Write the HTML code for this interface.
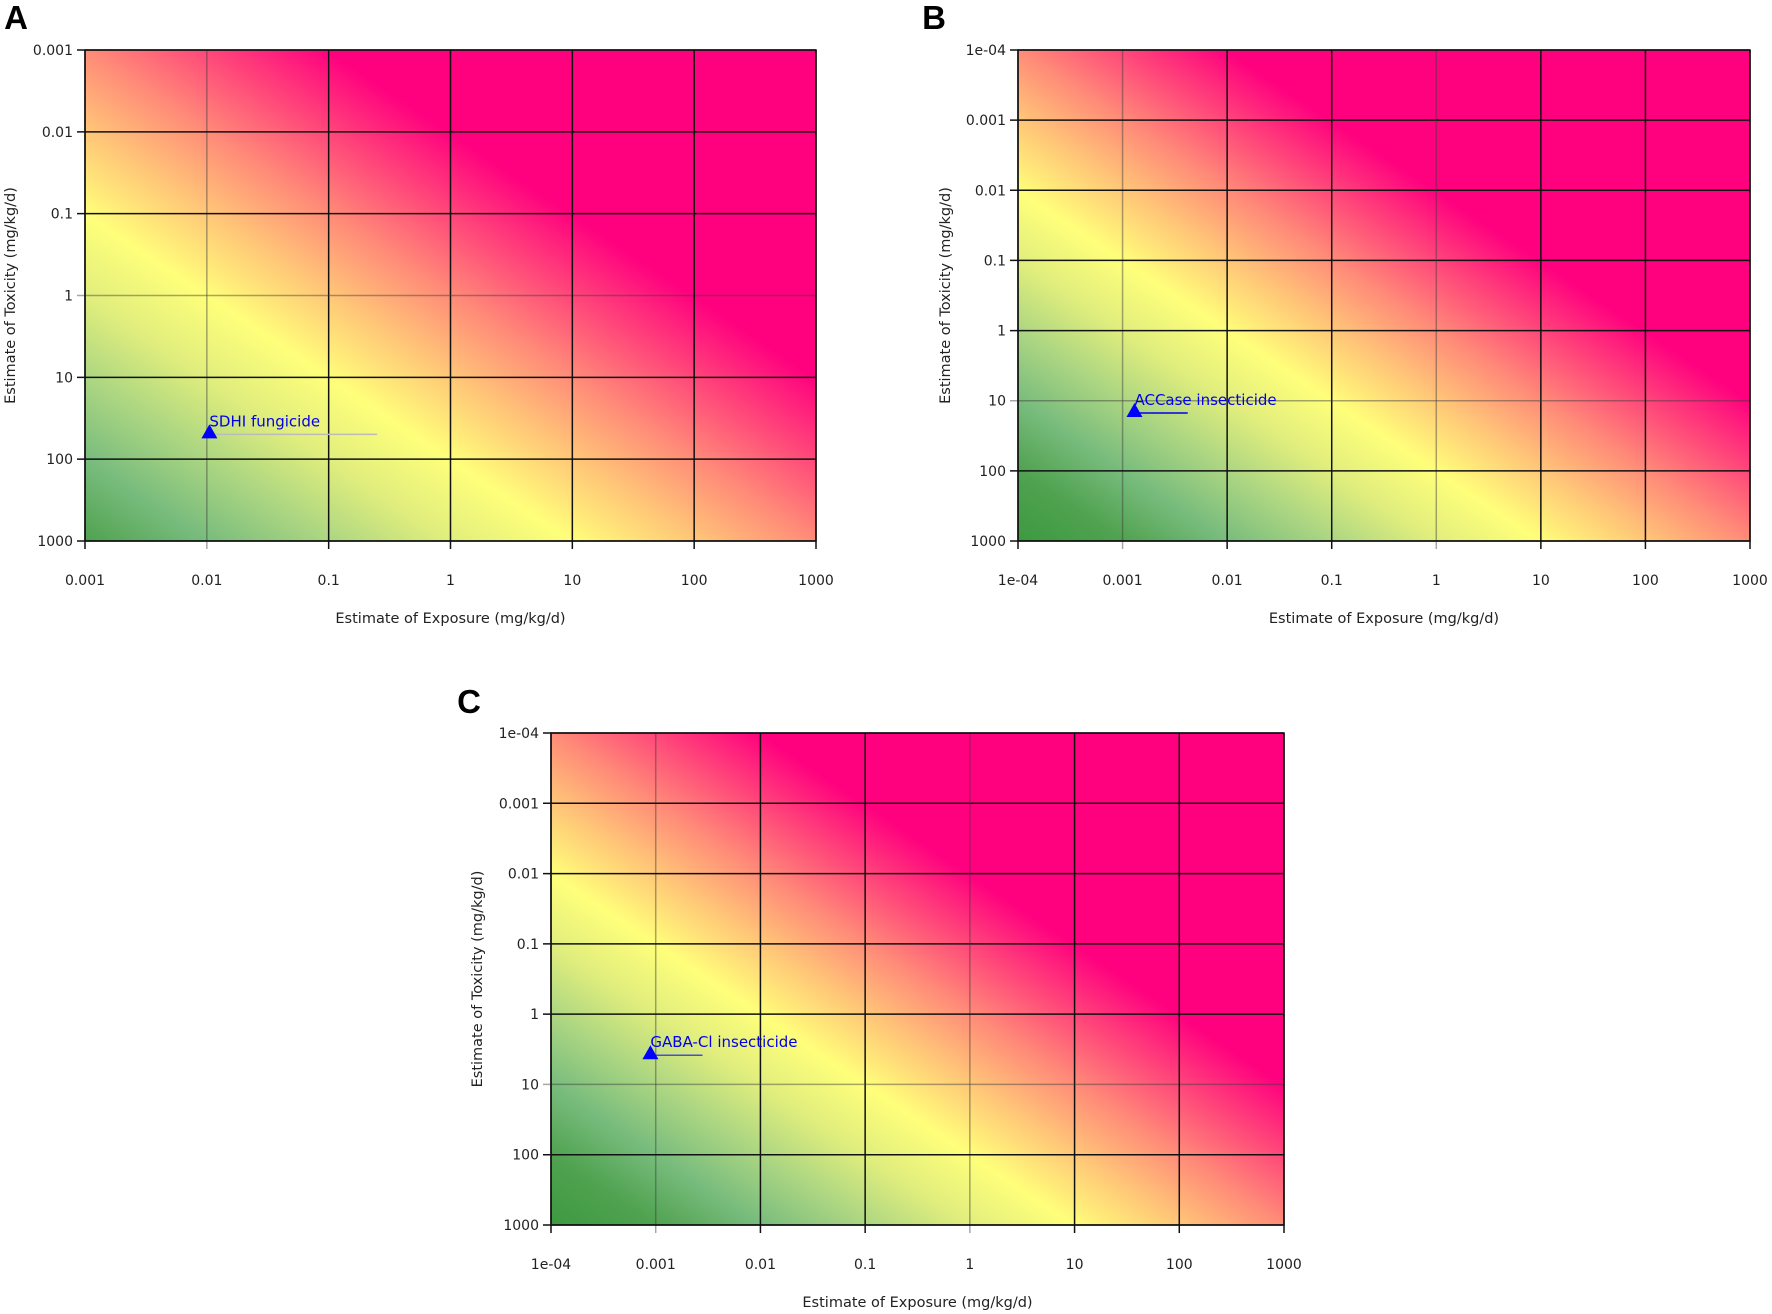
<!DOCTYPE html>
<html><head><meta charset="utf-8">
<style>
html,body{margin:0;padding:0;background:#fff;}
#root{position:relative;width:1772px;height:1314px;overflow:hidden;}
canvas{position:absolute;}
svg{position:absolute;left:0;top:0;}
text{font-family:"DejaVu Sans","Liberation Sans",sans-serif;}
</style></head>
<body>
<div id="root">
<canvas id="cA"></canvas>
<canvas id="cB"></canvas>
<canvas id="cC"></canvas>
<svg id="svg" width="1772" height="1314"></svg>
</div>
<script>
// ---- data ----
const ticksA = [0.001, 0.01, 0.1, 1, 10, 100, 1000];
const tickLabelsA = ["0.001","0.01","0.1","1","10","100","1000"];
const ticksBC = [1e-4, 0.001, 0.01, 0.1, 1, 10, 100, 1000];
const tickLabelsBC = ["1e-04","0.001","0.01","0.1","1","10","100","1000"];
const pointNames = ["SDHI fungicide", "ACCase insecticide", "GABA-Cl insecticide"];
const pointExposure = [0.0105, 0.0013, 0.00089];
const pointToxicity = [47, 14, 3.6];
const pointLineEnd = [0.25, 0.0042, 0.0028];
// colour stops over log10(exposure/toxicity)
const riskStops = [-7, -6, -5, -4, -3, -2, -1, 0, 1, 2];
const riskColors = [[61,154,64],[80,162,80],[120,188,125],[172,214,130],[225,238,125],[255,255,122],[255,200,120],[255,140,120],[255,70,122],[255,0,127]];

const panels = [
 {id:"a", canvas:"cA", letter:"A", lx:16, ly:17, x0:85, x1:816, y0:50, y1:541, ticks:ticksA, labels:tickLabelsA,
  greyX:[0.01], greyY:[1], ytitleX:10, p:0, lineColor:"#bbbbbb"},
 {id:"b", canvas:"cB", letter:"B", lx:934, ly:17, x0:1018, x1:1750, y0:50, y1:541, ticks:ticksBC, labels:tickLabelsBC,
  greyX:[0.001,1], greyY:[10], ytitleX:945, p:1, lineColor:"#0000ee"},
 {id:"c", canvas:"cC", letter:"C", lx:469, ly:701, x0:551, x1:1284, y0:733, y1:1225, ticks:ticksBC, labels:tickLabelsBC,
  greyX:[0.001,1], greyY:[10], ytitleX:477, p:2, lineColor:"#4a4adf"}
];

const NS="http://www.w3.org/2000/svg";
const svg=document.getElementById('svg');
function mk(tag, attrs, parent){const e=document.createElementNS(NS,tag);for(const k in attrs)e.setAttribute(k,attrs[k]);(parent||svg).appendChild(e);return e;}

function riskColor(r){
  if(r<=riskStops[0]) return riskColors[0];
  for(let i=1;i<riskStops.length;i++){
    if(r<=riskStops[i]){const t=(r-riskStops[i-1])/(riskStops[i]-riskStops[i-1]);
      const a=riskColors[i-1],b=riskColors[i];return [a[0]+(b[0]-a[0])*t,a[1]+(b[1]-a[1])*t,a[2]+(b[2]-a[2])*t];}
  }
  return riskColors[riskColors.length-1];
}

panels.forEach(P=>{
  const lmin=Math.log10(P.ticks[0]), lmax=Math.log10(P.ticks[P.ticks.length-1]);
  const sx=v=>P.x0+(Math.log10(v)-lmin)/(lmax-lmin)*(P.x1-P.x0);
  const sy=v=>P.y0+(Math.log10(v)-lmin)/(lmax-lmin)*(P.y1-P.y0);
  const cv=document.getElementById(P.canvas);
  const W=P.x1-P.x0, H=P.y1-P.y0;
  cv.width=W;cv.height=H;cv.style.left=P.x0+'px';cv.style.top=P.y0+'px';
  const ctx=cv.getContext('2d');const img=ctx.createImageData(W,H);
  for(let j=0;j<H;j++){const ly=lmin+(j+0.5)/H*(lmax-lmin);
    for(let i=0;i<W;i++){const lx=lmin+(i+0.5)/W*(lmax-lmin);
      const c=riskColor(lx-ly);const k=(j*W+i)*4;
      img.data[k]=c[0];img.data[k+1]=c[1];img.data[k+2]=c[2];img.data[k+3]=255;}}
  ctx.putImageData(img,0,0);

  const g=mk('g',{});
  
  
  P.ticks.forEach((t,i)=>{
    const x=sx(t), y=sy(t);
    const gx=P.greyX.includes(t), gy=P.greyY.includes(t);
    const vl=mk('line',{x1:x,x2:x,y1:P.y0,y2:P.y1+8,stroke:gx?'rgba(60,60,60,0.45)':'#111','stroke-width':1.5},g);
    
    
    const hl=mk('line',{x1:P.x0-8,x2:P.x1,y1:y,y2:y,stroke:gy?'rgba(60,60,60,0.45)':'#111','stroke-width':1.5},g);
    
    
    const xt=mk('text',{x:x,y:P.y1+44,'font-size':14,'text-anchor':'middle',fill:'#222'},g);
    xt.textContent=P.labels[i];
    
    
    const yt=mk('text',{x:P.x0-12,y:y+5,'font-size':14,'text-anchor':'end',fill:'#222'},g);
    yt.textContent=P.labels[i];
    
    
  });
  const fr=mk('rect',{x:P.x0,y:P.y0,width:W,height:H,fill:'none',stroke:'#111','stroke-width':1.5},g);
  
  
  const xtitle=mk('text',{x:(P.x0+P.x1)/2,y:P.y1+82,'font-size':14.5,'text-anchor':'middle',fill:'#222'},g);
  xtitle.textContent='Estimate of Exposure (mg/kg/d)';
  
  
  const cy=(P.y0+P.y1)/2;
  const ytitle=mk('text',{x:P.ytitleX,y:cy,'font-size':14.5,'text-anchor':'middle',fill:'#222',transform:`rotate(-90 ${P.ytitleX} ${cy}) translate(0 5)`},g);
  ytitle.textContent='Estimate of Toxicity (mg/kg/d)';
  
  
  const lt=mk('text',{x:P.lx,y:P.ly+12,'font-size':33,'font-weight':'bold','text-anchor':'middle',fill:'#000',style:'font-family:"Liberation Sans",sans-serif'},g);
  lt.textContent=P.letter;
  
  
  const px=sx(pointExposure[P.p]), py=sy(pointToxicity[P.p]);
  const ln=mk('line',{x1:px,x2:sx(pointLineEnd[P.p]),y1:py+2,y2:py+2,stroke:P.lineColor,'stroke-width':1.5},g);
  
  
  const tri=mk('polygon',{points:`${px},${py-8} ${px-8},${py+6} ${px+8},${py+6}`,fill:'#0000ff'},g);
  
  
  const pl=mk('text',{x:px,y:py-6,'font-size':15,fill:'#0000ee'},g);
  pl.textContent=pointNames[P.p];
  
  
});
</script>
</body></html>
